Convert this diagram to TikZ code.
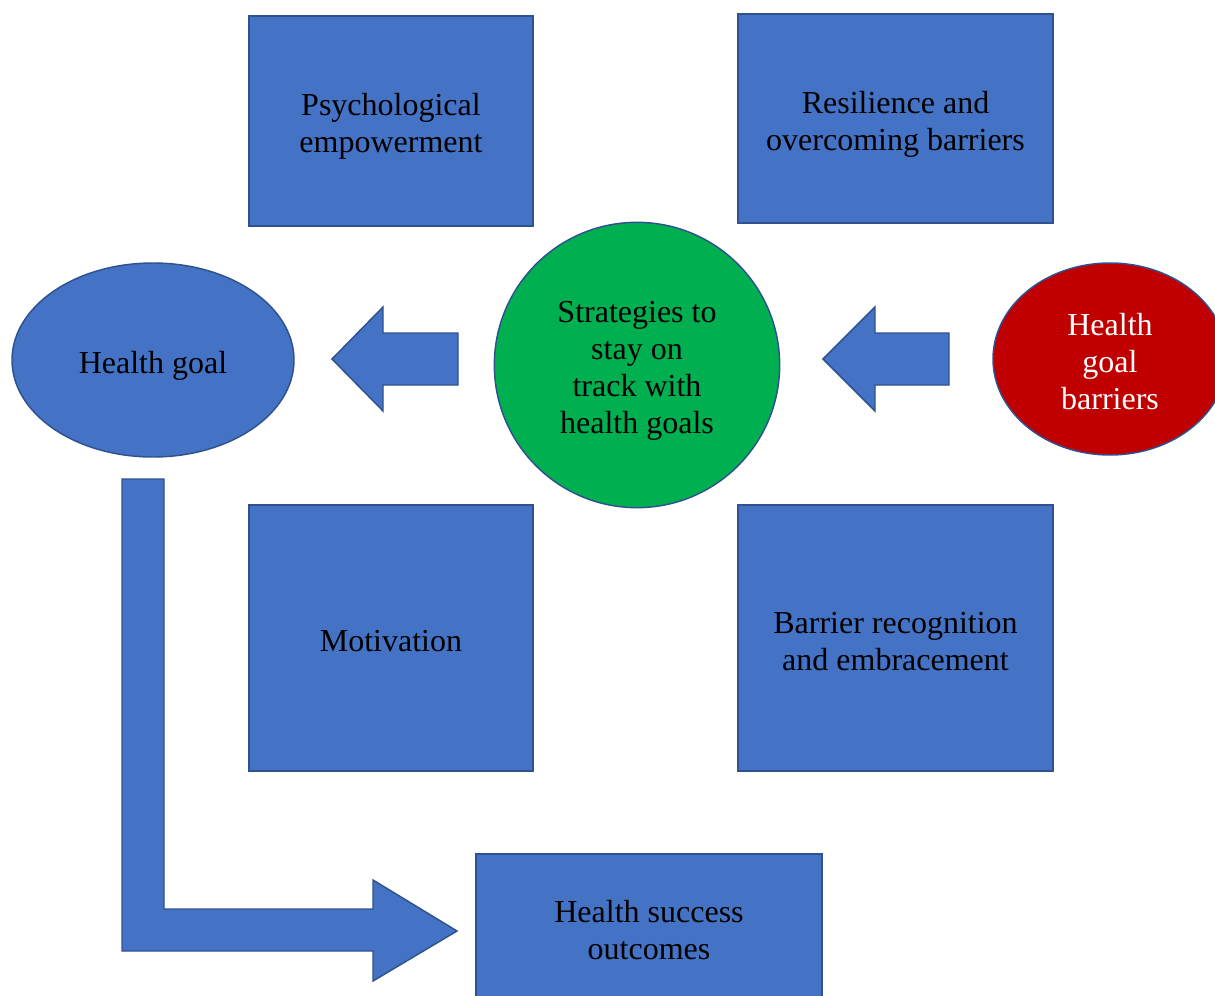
\documentclass[tikz,border=0pt]{standalone}
\usepackage{fontspec}
\setmainfont{Liberation Serif}
\usetikzlibrary{shapes.geometric}
\definecolor{boxblue}{HTML}{4472C4}
\definecolor{edgeblue}{HTML}{2F528F}
\definecolor{okgreen}{HTML}{00B050}
\definecolor{alertred}{HTML}{C00000}
\tikzset{
  shapebase/.style={draw=edgeblue, line width=1.1pt, inner sep=0pt, outer sep=0pt},
  bluebox/.style={shapebase, rectangle, fill=boxblue},
  blueoval/.style={shapebase, ellipse, fill=boxblue},
  greencirc/.style={shapebase, circle, fill=okgreen},
  redoval/.style={shapebase, ellipse, fill=alertred},
  shapetext/.style={inner sep=0pt, align=center, font=\fontsize{24}{27.75}\selectfont, text=black},
  blockarrow/.style={draw=edgeblue, line width=1.1pt, fill=boxblue, line join=miter}
}
\begin{document}
\begin{tikzpicture}[x=0.75pt,y=-0.75pt]
\useasboundingbox (0,0) rectangle (1215,996);
\clip (0,0) rectangle (1215,996);
% shapes
\node[bluebox, minimum width=213pt, minimum height=157.5pt] (psych) at (391,121) {};
\node[bluebox, minimum width=236.25pt, minimum height=156.75pt] (resil) at (895.5,118.5) {};
\node[blueoval, minimum width=211.5pt, minimum height=145.5pt] (goal) at (153,360) {};
\node[greencirc, minimum size=214pt] (strat) at (637,365) {};
\node[redoval, minimum width=175.5pt, minimum height=144pt] (barr) at (1110,359) {};
\node[bluebox, minimum width=213pt, minimum height=199.5pt] (motiv) at (391,638) {};
\node[bluebox, minimum width=236.25pt, minimum height=199.5pt] (recog) at (895.5,638) {};
\node[bluebox, minimum width=259.5pt, minimum height=114pt] (succ) at (649,930) {};
% texts
\node[shapetext] (psychtext) at (391,126.5) {Psychological\\empowerment};
\node[shapetext] (resiltext) at (895.5,124.5) {Resilience and\\overcoming barriers};
\node[shapetext] (goaltext) at (153,366) {Health goal};
\node[shapetext] (strattext) at (637,371) {Strategies to\\stay on\\track with\\health goals};
\node[shapetext, text=white] (barrtext) at (1110,362) {Health\\goal\\barriers};
\node[shapetext] (motivtext) at (391,641) {Motivation};
\node[shapetext] (recogtext) at (895.5,642) {Barrier recognition\\and embracement};
\node[shapetext] (succtext) at (649,930) {Health success\\outcomes};
% block arrows
\draw[blockarrow] (458,333) -- (383,333) -- (383,307) -- (332,359) -- (383,411) -- (383,385) -- (458,385) -- cycle;
\draw[blockarrow] (949,333) -- (875,333) -- (875,307) -- (823,359) -- (875,411) -- (875,385) -- (949,385) -- cycle;
\draw[blockarrow] (122,479) -- (164,479) -- (164,909) -- (373,909) -- (373,880) -- (457,931) -- (373,981) -- (373,951) -- (122,951) -- cycle;
\end{tikzpicture}
\end{document}
